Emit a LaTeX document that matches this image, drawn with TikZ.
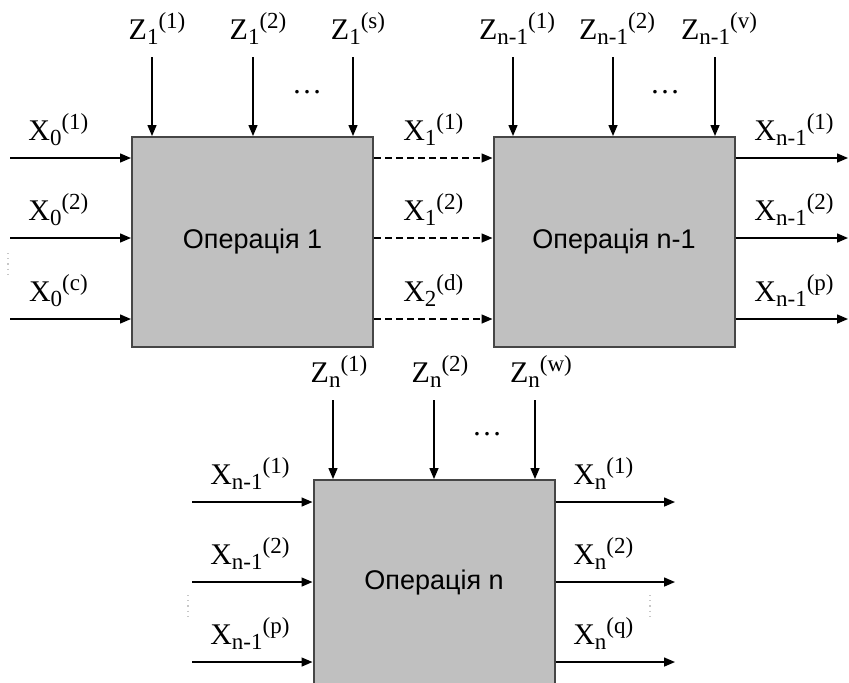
\documentclass[tikz,border=0pt]{standalone}
\usepackage{fontspec}
\setmainfont{Liberation Serif}
\newfontfamily\opfont{Liberation Sans}
\usetikzlibrary{arrows.meta, positioning, calc}
\definecolor{boxgray}{RGB}{192,192,192}
\definecolor{edge}{RGB}{70,70,70}
\newcommand{\scriptfs}{\fontsize{11.5}{13}\selectfont}
\newcommand{\sig}[3]{#1\raisebox{-2.5pt}{\scriptfs #2}\raisebox{5.5pt}{\scriptfs (#3)}}
\tikzset{
    opbox/.style={rectangle, draw=edge, line width=1pt, fill=boxgray, minimum width=120.5pt, minimum height=105pt, inner sep=0pt, font=\opfont\fontsize{13.5}{16}\selectfont},
    arr/.style={-{Triangle[length=5.5pt, width=4.5pt]}, line width=0.7pt, black},
    dasharr/.style={arr, dash pattern=on 3.5pt off 2pt},
    lbl/.style={font=\fontsize{15}{17}\selectfont, inner sep=0pt},
    vdots/.style={black!22, line width=0.6pt, dotted}
}
\begin{document}
\begin{tikzpicture}[x=0.5pt, y=-0.5pt]
    \useasboundingbox (0,0) rectangle (849,682);
    \clip (0,0) rectangle (849,682);

    % operations
    \node[opbox] (op1) at (252.5,242) {Операція 1};
    \node[opbox] (op2) at (614,242) {Операція n-1};
    \node[opbox, minimum height=102pt] (opn) at (434,582) {Операція n};

    % inputs of operation 1
    \coordinate (x0a) at (10,158);
    \coordinate (x0b) at (10,238);
    \coordinate (x0c) at (10,319);
    \draw[arr] (x0a) -- node[lbl, above=6pt, pos=0.4] {\sig{X}{0}{1}} (x0a -| op1.west);
    \draw[arr] (x0b) -- node[lbl, above=6pt, pos=0.4] {\sig{X}{0}{2}} (x0b -| op1.west);
    \draw[arr] (x0c) -- node[lbl, above=6pt, pos=0.4] {\sig{X}{0}{c}} (x0c -| op1.west);

    % between operation 1 and operation n-1
    \draw[dasharr] (x0a -| op1.east) -- node[lbl, above=6pt] {\sig{X}{1}{1}} (x0a -| op2.west);
    \draw[dasharr] (x0b -| op1.east) -- node[lbl, above=6pt] {\sig{X}{1}{2}} (x0b -| op2.west);
    \draw[dasharr] (x0c -| op1.east) -- node[lbl, above=6pt] {\sig{X}{2}{d}} (x0c -| op2.west);

    % outputs of operation n-1
    \coordinate (xra) at (848,158);
    \coordinate (xrb) at (848,238);
    \coordinate (xrc) at (848,319);
    \draw[arr] (xra -| op2.east) -- node[lbl, above=6pt, pos=0.52] {\sig{X}{n-1}{1}} (xra);
    \draw[arr] (xrb -| op2.east) -- node[lbl, above=6pt, pos=0.52] {\sig{X}{n-1}{2}} (xrb);
    \draw[arr] (xrc -| op2.east) -- node[lbl, above=6pt, pos=0.52] {\sig{X}{n-1}{p}} (xrc);

    % parameters of operation 1 and operation n-1
    \coordinate (z1a) at (152,57);
    \coordinate (z1b) at (253,57);
    \coordinate (z1c) at (353,57);
    \coordinate (z2a) at (513,57);
    \coordinate (z2b) at (613,57);
    \coordinate (z2c) at (715,57);
    \draw[arr] (z1a) node[lbl, above=6pt, xshift=2.5pt] {\sig{Z}{1}{1}} -- (z1a |- op1.north);
    \draw[arr] (z1b) node[lbl, above=6pt, xshift=2.5pt] {\sig{Z}{1}{2}} -- (z1b |- op1.north);
    \draw[arr] (z1c) node[lbl, above=6pt, xshift=2.5pt] {\sig{Z}{1}{s}} -- (z1c |- op1.north);
    \draw[arr] (z2a) node[lbl, above=6pt, xshift=2pt] {\sig{Z}{n-1}{1}} -- (z2a |- op2.north);
    \draw[arr] (z2b) node[lbl, above=6pt, xshift=2pt] {\sig{Z}{n-1}{2}} -- (z2b |- op2.north);
    \draw[arr] (z2c) node[lbl, above=6pt, xshift=2pt] {\sig{Z}{n-1}{v}} -- (z2c |- op2.north);
    \node[lbl] (dots1) at (307,92) {\dots};
    \node[lbl] (dots2) at (665,92) {\dots};

    % operation n
    \coordinate (zna) at (333,400);
    \coordinate (znb) at (434,400);
    \coordinate (znc) at (535,400);
    \draw[arr] (zna) node[lbl, above=6pt, xshift=3pt] {\sig{Z}{n}{1}} -- (zna |- opn.north);
    \draw[arr] (znb) node[lbl, above=6pt, xshift=3pt] {\sig{Z}{n}{2}} -- (znb |- opn.north);
    \draw[arr] (znc) node[lbl, above=6pt, xshift=3pt] {\sig{Z}{n}{w}} -- (znc |- opn.north);
    \node[lbl] (dots3) at (487,434) {\dots};

    \coordinate (xla) at (192,502);
    \coordinate (xlb) at (192,582);
    \coordinate (xlc) at (192,662);
    \draw[arr] (xla) -- node[lbl, above=6pt, pos=0.48] {\sig{X}{n-1}{1}} (xla -| opn.west);
    \draw[arr] (xlb) -- node[lbl, above=6pt, pos=0.48] {\sig{X}{n-1}{2}} (xlb -| opn.west);
    \draw[arr] (xlc) -- node[lbl, above=6pt, pos=0.48] {\sig{X}{n-1}{p}} (xlc -| opn.west);

    \coordinate (xna) at (675,502);
    \coordinate (xnb) at (675,582);
    \coordinate (xnc) at (675,662);
    \draw[arr] (xna -| opn.east) -- node[lbl, above=6pt, pos=0.4] {\sig{X}{n}{1}} (xna);
    \draw[arr] (xnb -| opn.east) -- node[lbl, above=6pt, pos=0.4] {\sig{X}{n}{2}} (xnb);
    \draw[arr] (xnc -| opn.east) -- node[lbl, above=6pt, pos=0.4] {\sig{X}{n}{q}} (xnc);

    % faint vertical dots
    \draw[vdots] (8,253) -- (8,277);
    \draw[vdots] (188,595) -- (188,618);
    \draw[vdots] (650,595) -- (650,618);
\end{tikzpicture}
\end{document}
